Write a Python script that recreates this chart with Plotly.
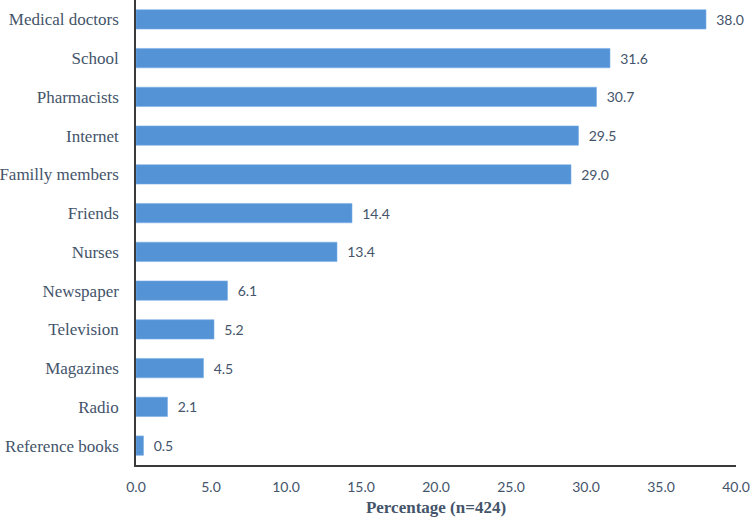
import plotly.graph_objects as go

# ── Data ───────────────────────────────────────────────────────────────────────
SOURCES = [
    "Medical doctors", "School", "Pharmacists", "Internet", "Familly members",
    "Friends", "Nurses", "Newspaper", "Television", "Magazines", "Radio",
    "Reference books",
]
PERCENTS = [38.0, 31.6, 30.7, 29.5, 29.0, 14.4, 13.4, 6.1, 5.2, 4.5, 2.1, 0.5]
X_TICKS = [0, 5, 10, 15, 20, 25, 30, 35, 40]

# ── Design tokens ──────────────────────────────────────────────────────────────
BAR_COLOR = "#5393D6"
TEXT_COLOR = "#44546A"
AXIS_COLOR = "#3a3a3a"
SERIF = "Liberation Serif, Times New Roman, serif"
SANS = "Lato, Carlito, Liberation Sans, sans-serif"

fig = go.Figure(
    go.Bar(
        x=PERCENTS,
        y=SOURCES,
        orientation="h",
        marker=dict(color=BAR_COLOR, line=dict(color="#7DB0E6", width=0.6)),
        text=["\u00a0\u00a0" + f"{v:.1f}" for v in PERCENTS],
        textposition="outside",
        textfont=dict(family=SANS, size=14, color=TEXT_COLOR),
        cliponaxis=False,
        hoverinfo="skip",
    )
)

fig.update_layout(
    width=750,
    height=521,
    plot_bgcolor="white",
    paper_bgcolor="white",
    margin=dict(t=0, b=56, l=136, r=14),
    bargap=0.5,
    showlegend=False,
    xaxis=dict(
        range=[0, 40],
        tickvals=X_TICKS,
        ticktext=[f"{v:.1f}" for v in X_TICKS],
        tickfont=dict(family=SANS, size=14, color=TEXT_COLOR),
        showgrid=False,
        zeroline=False,
        showline=True,
        linecolor=AXIS_COLOR,
        linewidth=1.5,
        ticks="",
        ticklabelstandoff=8,
        title=dict(
            text="<b>Percentage (n=424)</b>",
            font=dict(family=SERIF, size=17, color=TEXT_COLOR),
            standoff=8,
        ),
    ),
    yaxis=dict(
        autorange="reversed",
        type="category",
        tickfont=dict(family=SERIF, size=17, color=TEXT_COLOR),
        showgrid=False,
        showline=True,
        linecolor=AXIS_COLOR,
        linewidth=1.5,
        ticks="",
        ticklabelstandoff=12,
    ),
)

# page body has a default 8px margin; drop it so the figure sits at 0,0
fig.write_html(
    "out.html",
    config={"displayModeBar": False},
    post_script="document.body.style.margin='0px';",
)
